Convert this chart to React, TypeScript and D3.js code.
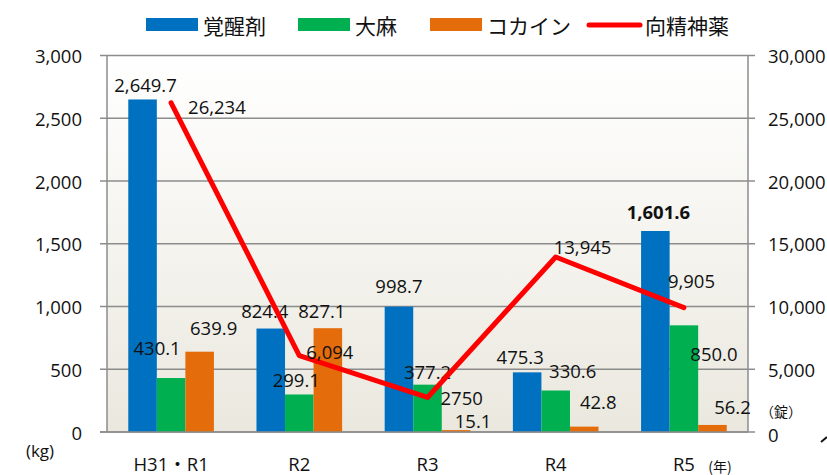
import React from "react";
import * as d3 from "d3";

const categories = ["H31・R1", "R2", "R3", "R4", "R5"];
const seriesNames = ["覚醒剤", "大麻", "コカイン"];
const stimulants = [2649.7, 824.4, 998.7, 475.3, 1601.6];
const cannabis = [430.1, 299.1, 377.2, 330.6, 850.0];
const cocaine = [639.9, 827.1, 15.1, 42.8, 56.2];
const lineName = "向精神薬";
const psychotropics = [26234, 6094, 2750, 13945, 9905];
const psychotropicCommas = [true, true, false, true, true];
const leftTicks = [0, 500, 1000, 1500, 2000, 2500, 3000];
const rightTicks = [0, 5000, 10000, 15000, 20000, 25000, 30000];

const colors = ["#0070c0", "#00b050", "#e46c0a"];
const lineColor = "#ff0000";

// label nudges (center offsets from bar top / point), styling only
const barLabelNudge = [
  [[3, -15], [-14, -31], [14, -24]],
  [[-6, -18], [-3, -15], [-6, -18]],
  [[0, -21], [0, -13], [17, -10]],
  [[-7, -16], [17, -20], [14, -25]],
  [[3, -19], [30, 28], [20, -18]],
];
const lineLabelNudge = [[17, 4], [7, -4], [13, 0], [-2, -10], [-16, -27]];

const W = 827, H = 475;
const L = 107, R = 748, T = 55.5, B = 432;
const FONT = "'Open Sans', 'Noto Sans CJK JP', sans-serif";
const CJK = "'Noto Sans CJK JP', 'Open Sans', sans-serif";

export default function App() {
  const x = d3.scaleBand<string>().domain(categories).range([L, R]).paddingInner(0.332).paddingOuter(0.166);
  const xs = d3.scaleBand<string>().domain(seriesNames).range([0, x.bandwidth()]);
  const y = d3.scaleLinear().domain([0, 3000]).range([B, T]);
  const y2 = d3.scaleLinear().domain([0, 30000]).range([B, T]);
  const series = [stimulants, cannabis, cocaine];
  const fmtL = d3.format(",");
  const fmtB = (v: number) => d3.format(",.1f")(v);
  const cx = (c: string) => (x(c) as number) + x.bandwidth() / 2;
  const line = d3.line<number>().x((_, i) => cx(categories[i])).y((d) => y2(d));

  return (
    <svg width={W} height={H} style={{ position: "absolute", left: 0, top: 0, background: "#fff" }}>
      <defs>
        <linearGradient id="bg" x1="0" y1="0" x2="0" y2="1">
          <stop offset="0" stopColor="#ffffff" />
          <stop offset="1" stopColor="#eae8de" />
        </linearGradient>
      </defs>
      <rect x={L} y={T} width={R - L} height={B - T} fill="url(#bg)" />
      {leftTicks.map((t) => (
        <g key={t}>
          <line x1={L - 7} x2={R} y1={y(t)} y2={y(t)} stroke="#8c8c8c" strokeWidth={1.5} />
          <text x={82} y={y(t)} textAnchor="end" dominantBaseline="central" fontFamily={FONT} fontSize={18.5} fill="#111">{fmtL(t)}</text>
        </g>
      ))}
      {rightTicks.map((t) => (
        <g key={t}>
          <line x1={R} x2={R + 7} y1={y2(t)} y2={y2(t)} stroke="#8c8c8c" strokeWidth={1.5} />
          <text x={768} y={y2(t) + (t === 0 ? 2 : 0)} textAnchor="start" dominantBaseline="central" fontFamily={FONT} fontSize={18.5} fill="#111">{fmtL(t)}</text>
        </g>
      ))}
      <line x1={L} x2={L} y1={T} y2={B} stroke="#8c8c8c" strokeWidth={1.5} />
      <line x1={R} x2={R} y1={T} y2={B} stroke="#8c8c8c" strokeWidth={1.5} />
      {categories.map((c, i) =>
        series.map((s, k) => (
          <rect key={c + k} x={(x(c) as number) + (xs(seriesNames[k]) as number)} y={y(s[i])}
            width={xs.bandwidth()} height={B - y(s[i])} fill={colors[k]} />
        ))
      )}
      <line x1={L - 7} x2={R} y1={B} y2={B} stroke="#8c8c8c" strokeWidth={1.5} />
      {categories.map((c, i) =>
        series.map((s, k) => {
          const bx = (x(c) as number) + (xs(seriesNames[k]) as number) + xs.bandwidth() / 2;
          const [dx, dy] = barLabelNudge[i][k];
          const bold = k === 0 && i === categories.length - 1;
          return (
            <text key={"l" + c + k} x={bx + dx} y={y(s[i]) + dy} textAnchor="middle" dominantBaseline="central"
              fontFamily={FONT} fontSize={18.5} fontWeight={bold ? 700 : 400} fill="#111">{fmtB(s[i])}</text>
          );
        })
      )}
      <path d={line(psychotropics) as string} fill="none" stroke={lineColor} strokeWidth={5} strokeLinecap="round" strokeLinejoin="round" />
      {psychotropics.map((v, i) => {
        const [dx, dy] = lineLabelNudge[i];
        return (
          <text key={"p" + i} x={cx(categories[i]) + dx} y={y2(v) + dy} textAnchor="start" dominantBaseline="central"
            fontFamily={FONT} fontSize={18.5} fill="#111">{psychotropicCommas[i] ? fmtL(v) : String(v)}</text>
        );
      })}
      {categories.map((c) => (
        <text key={"x" + c} x={cx(c)} y={463} textAnchor="middle" dominantBaseline="central" fontFamily={FONT} fontSize={18.5} fill="#111">{c}</text>
      ))}
      <text x={40} y={450} textAnchor="middle" dominantBaseline="central" fontFamily={FONT} fontSize={17} fill="#111">(kg)</text>
      <text x={720} y={466} textAnchor="middle" dominantBaseline="central" fontFamily={CJK} fontSize={14} fill="#111">(年)</text>
      <text x={781} y={411} textAnchor="middle" dominantBaseline="central" fontFamily={CJK} fontSize={14} fill="#111">（錠）</text>
      <line x1={821} y1={442} x2={827} y2={437} stroke="#111" strokeWidth={2} />
      {/* legend */}
      {seriesNames.map((n, k) => {
        const lx = [146, 298, 430][k];
        return (
          <g key={"lg" + k}>
            <rect x={lx} y={18} width={52} height={13} fill={colors[k]} />
            <text x={lx + 57} y={25} dominantBaseline="central" fontFamily={CJK} fontSize={21} fill="#111">{n}</text>
          </g>
        );
      })}
      <line x1={589} x2={640} y1={25} y2={25} stroke={lineColor} strokeWidth={5} strokeLinecap="round" />
      <text x={645} y={25} dominantBaseline="central" fontFamily={CJK} fontSize={21} fill="#111">{lineName}</text>
    </svg>
  );
}
